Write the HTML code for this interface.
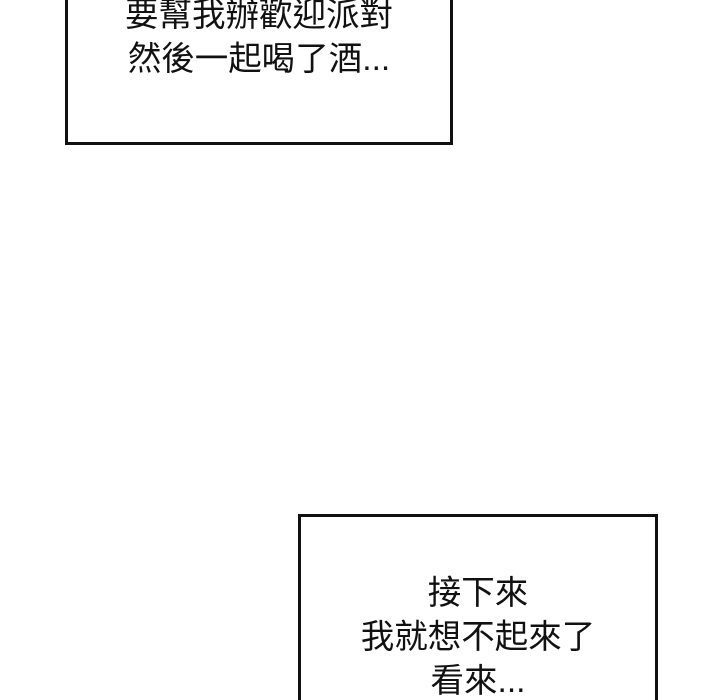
<!DOCTYPE html>
<html><head><meta charset="utf-8"><style>
html,body{margin:0;padding:0;background:#fff;width:720px;height:700px;overflow:hidden;position:relative}
.box{position:absolute;border:3.5px solid #111;background:#fff;box-sizing:border-box}
.t{position:absolute;left:0;width:100%;text-align:center;font-family:"Liberation Sans","Noto Sans CJK TC",sans-serif;font-size:33.5px;color:#111;line-height:44px;white-space:nowrap}
</style></head><body>
<div class="box" style="left:65px;top:-10px;width:388px;height:155px">
<div class="t" style="top:1px">要幫我辦歡迎派對<br>然後一起喝了酒...</div>
</div>
<div class="box" style="left:298px;top:514px;width:360px;height:200px">
<div class="t" style="top:55px">接下來<br>我就想不起來了<br>看來...</div>
</div>
</body></html>
